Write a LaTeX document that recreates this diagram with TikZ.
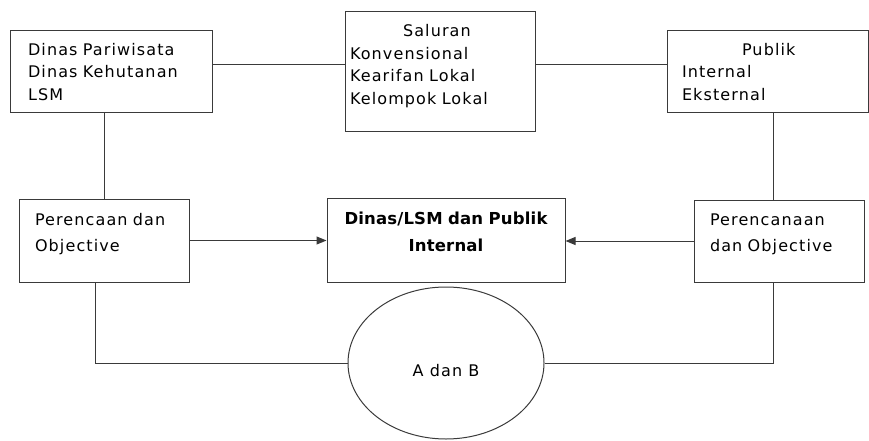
\documentclass[tikz,border=0pt]{standalone}
\usepackage{fontspec}
\newfontfamily\diagfont[LetterSpace=7,BoldFeatures={LetterSpace=1}]{DejaVu Sans}
\usepackage{xcolor}
\definecolor{linecol}{HTML}{3A3A3A}
\usepackage{tikz}
\usetikzlibrary{arrows.meta, shapes.geometric, positioning, calc}

\begin{document}
\begin{tikzpicture}[x=1pt, y=-1pt, >={Triangle[length=10pt,width=8pt]},
  font=\diagfont\fontsize{16}{22.7}\selectfont,
  infobox/.style={draw=linecol, line width=1pt, inner ysep=0pt, align=left},
  lowbox/.style={infobox, font=\diagfont\fontsize{16}{26.5}\selectfont},
  link/.style={draw=linecol, line width=1pt}]
  \useasboundingbox (0,0) rectangle (869,441);

  % top row
  \node[infobox, minimum width=202pt, minimum height=82pt, inner xsep=18pt, text width=166pt]
    (dinas) at (111,72) {Dinas~Pariwisata\\Dinas~Kehutanan\\LSM};
  \node[infobox, minimum width=190pt, minimum height=119pt, inner xsep=5pt, text width=180pt]
    (saluran) at (440,71.5) {\hspace*{53pt}Saluran\\Konvensional\\Kearifan~Lokal\\Kelompok~Lokal\\[-8.5pt]\mbox{}};
  \node[infobox, minimum width=201pt, minimum height=82pt, inner xsep=15pt, text width=171pt]
    (publik) at (767.5,72) {\hspace*{60pt}Publik\\Internal\\Eksternal};

  % middle row
  \node[lowbox, minimum width=170pt, minimum height=83pt, inner xsep=16pt, text width=138pt]
    (perL) at (104,240.5) {Perencaan~dan\\Objective\\[-10pt]\mbox{}};
  \node[lowbox, font=\diagfont\bfseries\fontsize{16.5}{26.5}\selectfont, minimum width=238pt,
    minimum height=84pt, inner xsep=4pt, text width=230pt, align=center]
    (centre) at (446,240) {Dinas/LSM~dan~Publik\\Internal\\[-10pt]\mbox{}};
  \node[lowbox, minimum width=170pt, minimum height=82pt, inner xsep=16pt, text width=138pt]
    (perR) at (779,241) {Perencanaan\\dan~Objective\\[-10pt]\mbox{}};

  % bottom
  \node[draw=linecol, line width=1pt, ellipse, minimum width=196pt, minimum height=152pt]
    (ab) at (446,363) {\raisebox{-28pt}{A dan B}};

  \coordinate (toprow) at (0,65);
  \coordinate (leftcol) at (95,0);
  \coordinate (rightcol) at (773,0);

  \draw[link] (dinas.east |- toprow) -- (saluran.west |- toprow);
  \draw[link] (saluran.east |- toprow) -- (publik.west |- toprow);
  \draw[link] (dinas.south -| perL.north) -- (perL.north);
  \draw[link] (publik.south -| rightcol) -- (perR.north -| rightcol);
  \draw[link, ->] (perL.east) -- (centre.west |- perL.east);
  \draw[link, ->] (perR.west) -- (centre.east |- perR.west);
  \draw[link] (perL.south -| leftcol) |- (ab.west);
  \draw[link] (perR.south -| rightcol) |- (ab.east);
\end{tikzpicture}
\end{document}
